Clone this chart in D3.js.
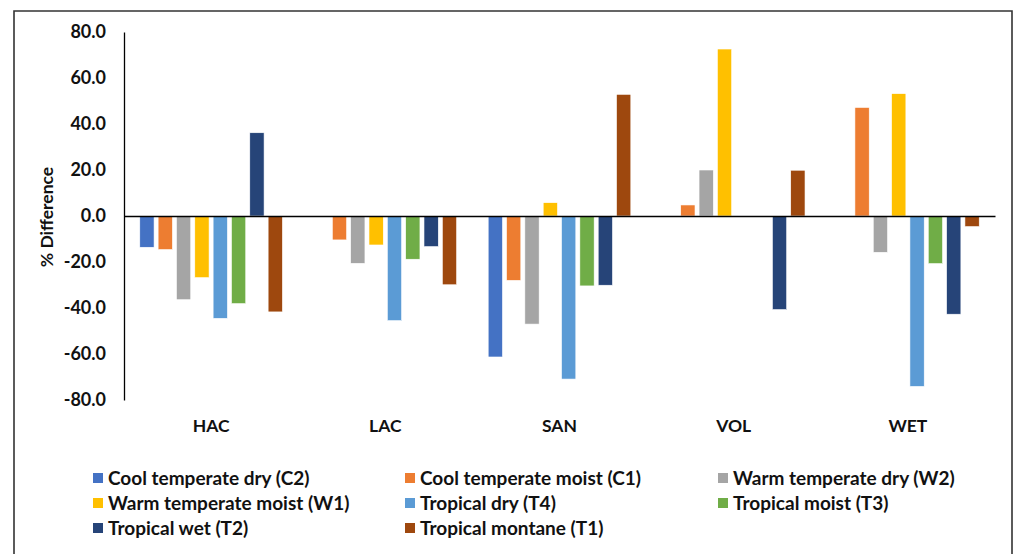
<!DOCTYPE html>
<html>
<head>
<meta charset="utf-8">
<script src="https://cdn.jsdelivr.net/npm/d3@7"></script>
<style>
  body { margin: 0; background: #fff; }
  svg { display: block; font-family: Lato, "Open Sans", sans-serif; }
</style>
</head>
<body>
<svg></svg>
<script>
const categories = ["HAC", "LAC", "SAN", "VOL", "WET"];

const seriesNames = [
  "Cool temperate dry (C2)",
  "Cool temperate moist (C1)",
  "Warm temperate dry (W2)",
  "Warm temperate moist (W1)",
  "Tropical dry (T4)",
  "Tropical moist (T3)",
  "Tropical wet (T2)",
  "Tropical montane (T1)",
];

const seriesColors = [
  "#4472C4", "#ED7D31", "#A5A5A5", "#FFC000",
  "#5B9BD5", "#70AD47", "#264478", "#9E480E",
];

// one array per series, values in category order (null = no bar)
const coolTempDry = [-13.6, null, -61.3, null, null];
const coolTempMoist = [-14.6, -10.4, -28.0, 4.8, 47.2];
const warmTempDry = [-36.4, -20.6, -47.0, 20.0, -15.8];
const warmTempMoist = [-26.8, -12.6, 5.8, 72.6, 53.2];
const tropicalDry = [-44.5, -45.5, -70.9, null, -74.1];
const tropicalMoist = [-38.1, -18.8, -30.4, null, -20.7];
const tropicalWet = [36.2, -13.3, -30.1, -40.7, -42.7];
const tropicalMontane = [-41.7, -29.9, 52.9, 19.9, -4.6];

const yTicks = [-80, -60, -40, -20, 0, 20, 40, 60, 80];

const seriesValues = [
  coolTempDry, coolTempMoist, warmTempDry, warmTempMoist,
  tropicalDry, tropicalMoist, tropicalWet, tropicalMontane,
];

const width = 1016;
const height = 554;
const plotLeft = 124;
const plotRight = 995;
const plotTop = 32;
const plotBottom = 400;

const svg = d3.select("svg").attr("width", width).attr("height", height);

// outer frame (bottom edge runs off the picture)
svg.append("path")
  .attr("d", `M14,${height + 5} V11 H1012 V${height + 5}`)
  .attr("fill", "none")
  .attr("stroke", "#333")
  .attr("stroke-width", 1.6);

const x0 = d3.scaleBand()
  .domain(categories)
  .range([plotLeft, plotRight])
  .paddingInner(0.158)
  .paddingOuter(0.079);

const x1 = d3.scaleBand()
  .domain(d3.range(seriesNames.length))
  .range([0, x0.bandwidth()])
  .paddingInner(0.22)
  .paddingOuter(0.11);

const y = d3.scaleLinear().domain([-80, 80]).range([plotBottom, plotTop]);

const rows = [];
categories.forEach((c, ci) => {
  seriesValues.forEach((vals, si) => {
    if (vals[ci] != null) rows.push({ cat: c, s: si, v: vals[ci] });
  });
});

svg.append("g")
  .selectAll("rect")
  .data(rows)
  .enter()
  .append("rect")
  .attr("x", (d) => x0(d.cat) + x1(d.s))
  .attr("width", x1.bandwidth())
  .attr("y", (d) => y(Math.max(0, d.v)))
  .attr("height", (d) => Math.abs(y(d.v) - y(0)))
  .attr("fill", (d) => seriesColors[d.s])
  .attr("stroke", "#fff")
  .attr("stroke-width", 0.6);

// y axis (plain hyphen for negatives, like the original)
const fmt = d3.format(".1f");
const yAxis = d3.axisLeft(y)
  .tickValues(yTicks)
  .tickFormat((d) => fmt(d).replace("\u2212", "-"))
  .tickSize(0)
  .tickPadding(18);
const gy = svg.append("g")
  .attr("transform", `translate(${plotLeft},0)`)
  .call(yAxis);
gy.select(".domain").attr("stroke", "#000").attr("stroke-width", 1.3);
gy.selectAll("text")
  .attr("font-family", "Lato, sans-serif")
  .attr("font-weight", "bold")
  .attr("font-size", 18)
  .attr("fill", "#111");

// zero line with category labels below the plot
const xAxis = d3.axisBottom(x0).tickSize(0).tickPadding(0);
const gx = svg.append("g")
  .attr("transform", `translate(0,${y(0)})`)
  .call(xAxis);
gx.select(".domain").attr("stroke", "#000").attr("stroke-width", 1.6);
gx.selectAll("text")
  .attr("y", 426 - y(0))
  .attr("dy", "0.35em")
  .attr("font-family", "Lato, sans-serif")
  .attr("font-weight", "bold")
  .attr("font-size", 17.5)
  .attr("fill", "#111");

svg.append("text")
  .attr("transform", `translate(47,217) rotate(-90)`)
  .attr("text-anchor", "middle")
  .attr("dy", "0.35em")
  .attr("font-weight", "bold")
  .attr("font-size", 17.5)
  .attr("fill", "#111")
  .text("% Difference");

// legend: 3 columns, filled row by row
const legendCols = [93, 405, 718];
const legendRows = [478, 503, 528];
const legend = svg.append("g")
  .selectAll("g")
  .data(seriesNames)
  .enter()
  .append("g")
  .attr("transform", (d, i) => `translate(${legendCols[i % 3]},${legendRows[Math.floor(i / 3)]})`);

legend.append("rect")
  .attr("x", 0)
  .attr("y", -5)
  .attr("width", 10)
  .attr("height", 10)
  .attr("fill", (d, i) => seriesColors[i]);

legend.append("text")
  .attr("x", 15)
  .attr("dy", "0.35em")
  .attr("font-weight", "bold")
  .attr("font-size", 19)
  .attr("fill", "#111")
  .text((d) => d);
</script>
</body>
</html>
